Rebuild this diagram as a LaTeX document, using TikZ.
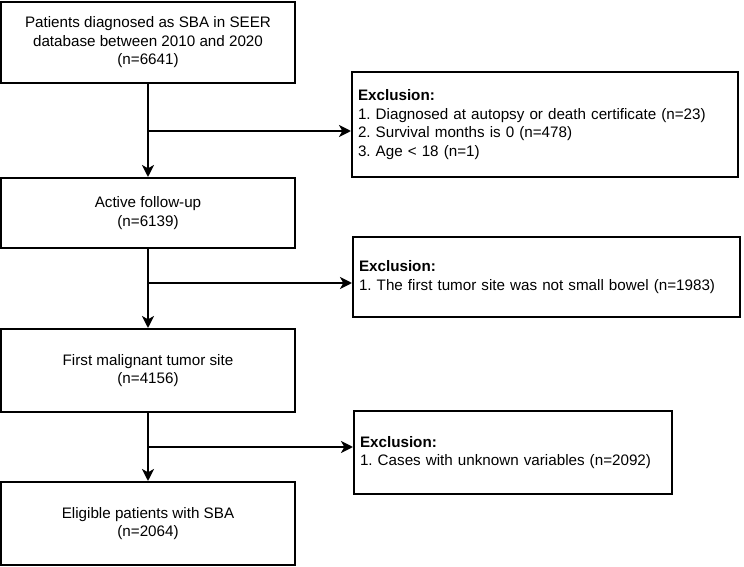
\documentclass[tikz,border=0pt]{standalone}
\usepackage{fontspec}
\setmainfont{Liberation Sans}
\usetikzlibrary{arrows.meta,calc}
\frenchspacing
\begin{document}
\begin{tikzpicture}[x=0.75pt,y=-0.75pt,
  font=\fontsize{11.4pt}{13.9pt}\selectfont\frenchspacing,
  mainbox/.style={draw, line width=1.5pt, align=center, minimum width={294*0.75pt}, inner sep=0pt},
  exbox/.style={draw, line width=1.5pt, align=left, inner xsep={6*0.75pt}, inner ysep=0pt},
  arr/.style={line width=1.5pt, -{Stealth[length=9pt,width=9pt,inset=2.5pt]}},
  ln/.style={line width=1.5pt}]
\useasboundingbox (0,0) rectangle (744,567);
\node[mainbox, minimum height={81*0.75pt}] (b1) at (148,42.5) {Patients diagnosed as SBA in SEER\\database between 2010 and 2020\\(n=6641)};
\node[mainbox, minimum height={70*0.75pt}] (b2) at (148,213) {Active follow-up\\(n=6139)};
\node[mainbox, minimum height={83*0.75pt}] (b3) at (148,370.5) {First malignant tumor site\\(n=4156)};
\node[mainbox, minimum height={83*0.75pt}] (b4) at (148,523.5) {Eligible patients with SBA\\(n=2064)};
\node[exbox, minimum height={105*0.75pt}, text width={(386-12)*0.75pt}] (e1) at (545,124.5) {\textbf{Exclusion:}\\1. Diagnosed at autopsy or death certificate (n=23)\\2. Survival months is 0 (n=478)\\3. Age < 18 (n=1)};
\node[exbox, minimum height={80*0.75pt}, text width={(387-12)*0.75pt}] (e2) at (546.5,277) {\textbf{Exclusion:}\\1. The first tumor site was not small bowel (n=1983)};
\node[exbox, minimum height={83*0.75pt}, text width={(318-12)*0.75pt}] (e3) at (513,452.5) {\textbf{Exclusion:}\\1. Cases with unknown variables (n=2092)};
\coordinate (j1) at (148,131);
\coordinate (j2) at (148,283);
\coordinate (j3) at (148,447);
\draw[arr] (b1) -- (b2);
\draw[arr] (b2) -- (b3);
\draw[arr] (b3) -- (b4);
\draw[arr] (j1) -- (j1 -| e1.west);
\draw[arr] (j2) -- (j2 -| e2.west);
\draw[arr] (j3) -- (j3 -| e3.west);
\end{tikzpicture}
\end{document}
